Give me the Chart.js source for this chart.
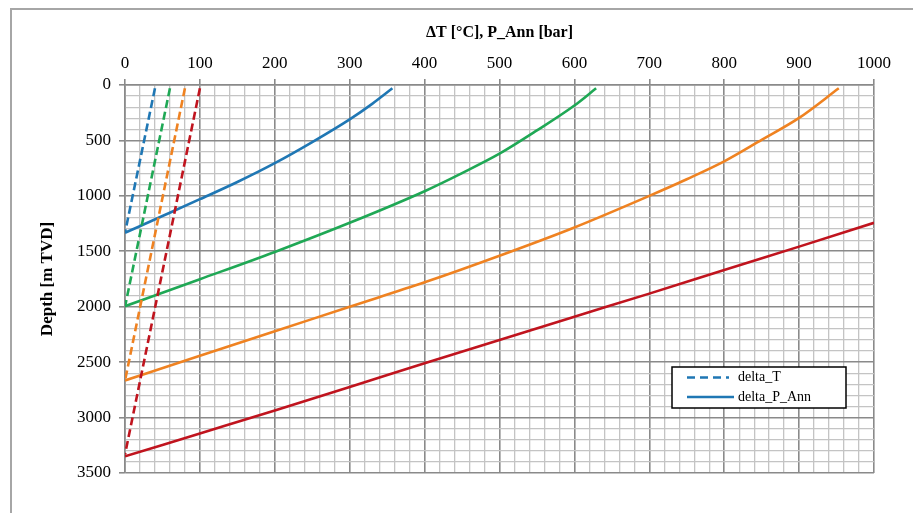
<!DOCTYPE html>
<html>
<head>
<meta charset="utf-8">
<script src="https://cdn.jsdelivr.net/npm/chart.js@4.4.0/dist/chart.umd.min.js"></script>
<style>
  html, body { margin: 0; padding: 0; background: #ffffff; width: 913px; height: 513px; overflow: hidden; }
  #frame { position: absolute; left: 10px; top: 8px; width: 1000px; height: 1000px; border: 2px solid #a6a6a6; box-sizing: border-box; }
  #wrap { position: absolute; left: 0; top: 0; width: 913px; height: 513px; }
</style>
</head>
<body>
<div id="frame"></div>
<div id="wrap"><canvas id="c" width="913" height="513"></canvas></div>
<script>
// ---- data ----
const xTitle = 'ΔT [°C], P_Ann [bar]';
const yTitle = 'Depth [m TVD]';
const legendLabels = ['delta_T', 'delta_P_Ann'];
const seriesColors = ['#1f77b4', '#1fa855', '#ef8221', '#c0141e'];

// delta_T (dashed): value at top depth and depth where it reaches zero
const deltaT_top = [40, 60, 80, 100];
const deltaT_topDepth = [30, 30, 30, 30];
const deltaT_zeroDepth = [1333, 2000, 2667, 3333];

// delta_P_Ann (solid)
const pBlue_bar   = [357, 330, 300, 250, 200, 150, 100, 50, 0];
const pBlue_depth = [30, 170, 310, 515, 705, 875, 1030, 1182, 1333];
const pGreen_bar   = [629, 600, 550, 500, 450, 400, 300, 200, 100, 0];
const pGreen_depth = [30, 185, 410, 620, 795, 958, 1243, 1506, 1752, 1995];
const pOrange_bar   = [953, 900, 850, 800, 750, 700, 600, 500, 400, 300, 200, 100, 0];
const pOrange_depth = [30, 297, 495, 689, 850, 1000, 1285, 1540, 1780, 2000, 2222, 2443, 2665];
const pRed_bar   = [1000, 900, 800, 700, 600, 500, 400, 300, 200, 100, 0];
const pRed_depth = [1243, 1458, 1668, 1882, 2090, 2300, 2510, 2725, 2936, 3143, 3350];

const xMin = 0, xMax = 1000, xMinorStep = 20, xMajorStep = 100;
const yMin = 0, yMax = 3500, yMinorStep = 100, yMajorStep = 500;

// ---- build datasets ----
const pBars = [pBlue_bar, pGreen_bar, pOrange_bar, pRed_bar];
const pDepths = [pBlue_depth, pGreen_depth, pOrange_depth, pRed_depth];
const datasets = [];
for (let i = 0; i < 4; i++) {
  datasets.push({
    label: legendLabels[0] + ' ' + (i + 1),
    data: [{x: deltaT_top[i], y: deltaT_topDepth[i]}, {x: 0, y: deltaT_zeroDepth[i]}],
    borderColor: seriesColors[i],
    borderWidth: 2.6,
    borderDash: [8, 4],
    showLine: true, pointRadius: 0, tension: 0
  });
}
for (let i = 0; i < 4; i++) {
  datasets.push({
    label: legendLabels[1] + ' ' + (i + 1),
    data: pBars[i].map((v, k) => ({x: v, y: pDepths[i][k]})),
    borderColor: seriesColors[i],
    borderWidth: 2.6,
    showLine: true, pointRadius: 0, cubicInterpolationMode: 'monotone'
  });
}

const serif = "'Liberation Serif', 'Times New Roman', serif";
const MAJOR = '#8a8a8a', MINOR = '#c4c4c4';

const legendPlugin = {
  id: 'boxLegend',
  afterDraw(chart) {
    const ctx = chart.ctx;
    const a = chart.chartArea;
    const bx = a.left + 547, by = a.top + 282, bw = 174, bh = 41;
    ctx.save();
    ctx.fillStyle = '#ffffff';
    ctx.fillRect(bx, by, bw, bh);
    ctx.strokeStyle = '#000000';
    ctx.lineWidth = 1.5;
    ctx.strokeRect(bx, by, bw, bh);
    ctx.strokeStyle = seriesColors[0];
    ctx.lineWidth = 2.6;
    ctx.setLineDash([8, 5]);
    ctx.beginPath(); ctx.moveTo(bx + 15, by + 10.5); ctx.lineTo(bx + 57, by + 10.5); ctx.stroke();
    ctx.setLineDash([]);
    ctx.beginPath(); ctx.moveTo(bx + 15, by + 30); ctx.lineTo(bx + 62, by + 30); ctx.stroke();
    ctx.fillStyle = '#000000';
    ctx.font = "14px " + serif;
    ctx.textBaseline = 'middle';
    ctx.textAlign = 'left';
    ctx.fillText(legendLabels[0], bx + 66, by + 10);
    ctx.fillText(legendLabels[1], bx + 66, by + 30);
    ctx.restore();
  }
};

new Chart(document.getElementById('c'), {
  type: 'scatter',
  data: { datasets },
  options: {
    responsive: false,
    animation: false,
    layout: { padding: { left: 37, top: 23, right: 39, bottom: 40 } },
    plugins: { legend: { display: false }, tooltip: { enabled: false } },
    scales: {
      x: {
        type: 'linear', position: 'top', min: xMin, max: xMax,
        afterFit: (s) => { s.height = 62; },
        ticks: {
          stepSize: xMinorStep, autoSkip: false, maxRotation: 0, padding: 5,
          color: '#000', font: { family: serif, size: 17 },
          callback: (v) => (Math.round(v) % xMajorStep === 0 ? String(Math.round(v)) : '')
        },
        grid: {
          color: (c) => (Math.round(c.tick.value) % xMajorStep === 0 ? MAJOR : MINOR),
          lineWidth: (c) => (Math.round(c.tick.value) % xMajorStep === 0 ? 1.6 : 1.3),
          tickColor: (c) => (Math.round(c.tick.value) % xMajorStep === 0 ? MAJOR : 'rgba(0,0,0,0)'),
          tickLength: 6, drawTicks: true
        },
        border: { display: true, color: MAJOR, width: 1.6 },
        title: { display: true, text: xTitle, color: '#000', padding: 0,
                 font: { family: serif, size: 16, weight: 'bold' } }
      },
      y: {
        type: 'linear', position: 'left', reverse: true, min: yMin, max: yMax,
        afterFit: (s) => { s.width = 88; },
        ticks: {
          stepSize: yMinorStep, autoSkip: false, padding: 8,
          color: '#000', font: { family: serif, size: 17 },
          callback: (v) => (Math.round(v) % yMajorStep === 0 ? String(Math.round(v)) : '')
        },
        grid: {
          color: (c) => (Math.round(c.tick.value) % yMajorStep === 0 ? MAJOR : MINOR),
          lineWidth: (c) => (Math.round(c.tick.value) % yMajorStep === 0 ? 1.6 : 1.3),
          tickColor: (c) => (Math.round(c.tick.value) % yMajorStep === 0 ? MAJOR : 'rgba(0,0,0,0)'),
          tickLength: 6, drawTicks: true
        },
        border: { display: true, color: MAJOR, width: 1.6 },
        title: { display: true, text: yTitle, color: '#000', padding: 0,
                 font: { family: serif, size: 17, weight: 'bold' } }
      }
    }
  },
  plugins: [legendPlugin]
});
</script>
</body>
</html>
